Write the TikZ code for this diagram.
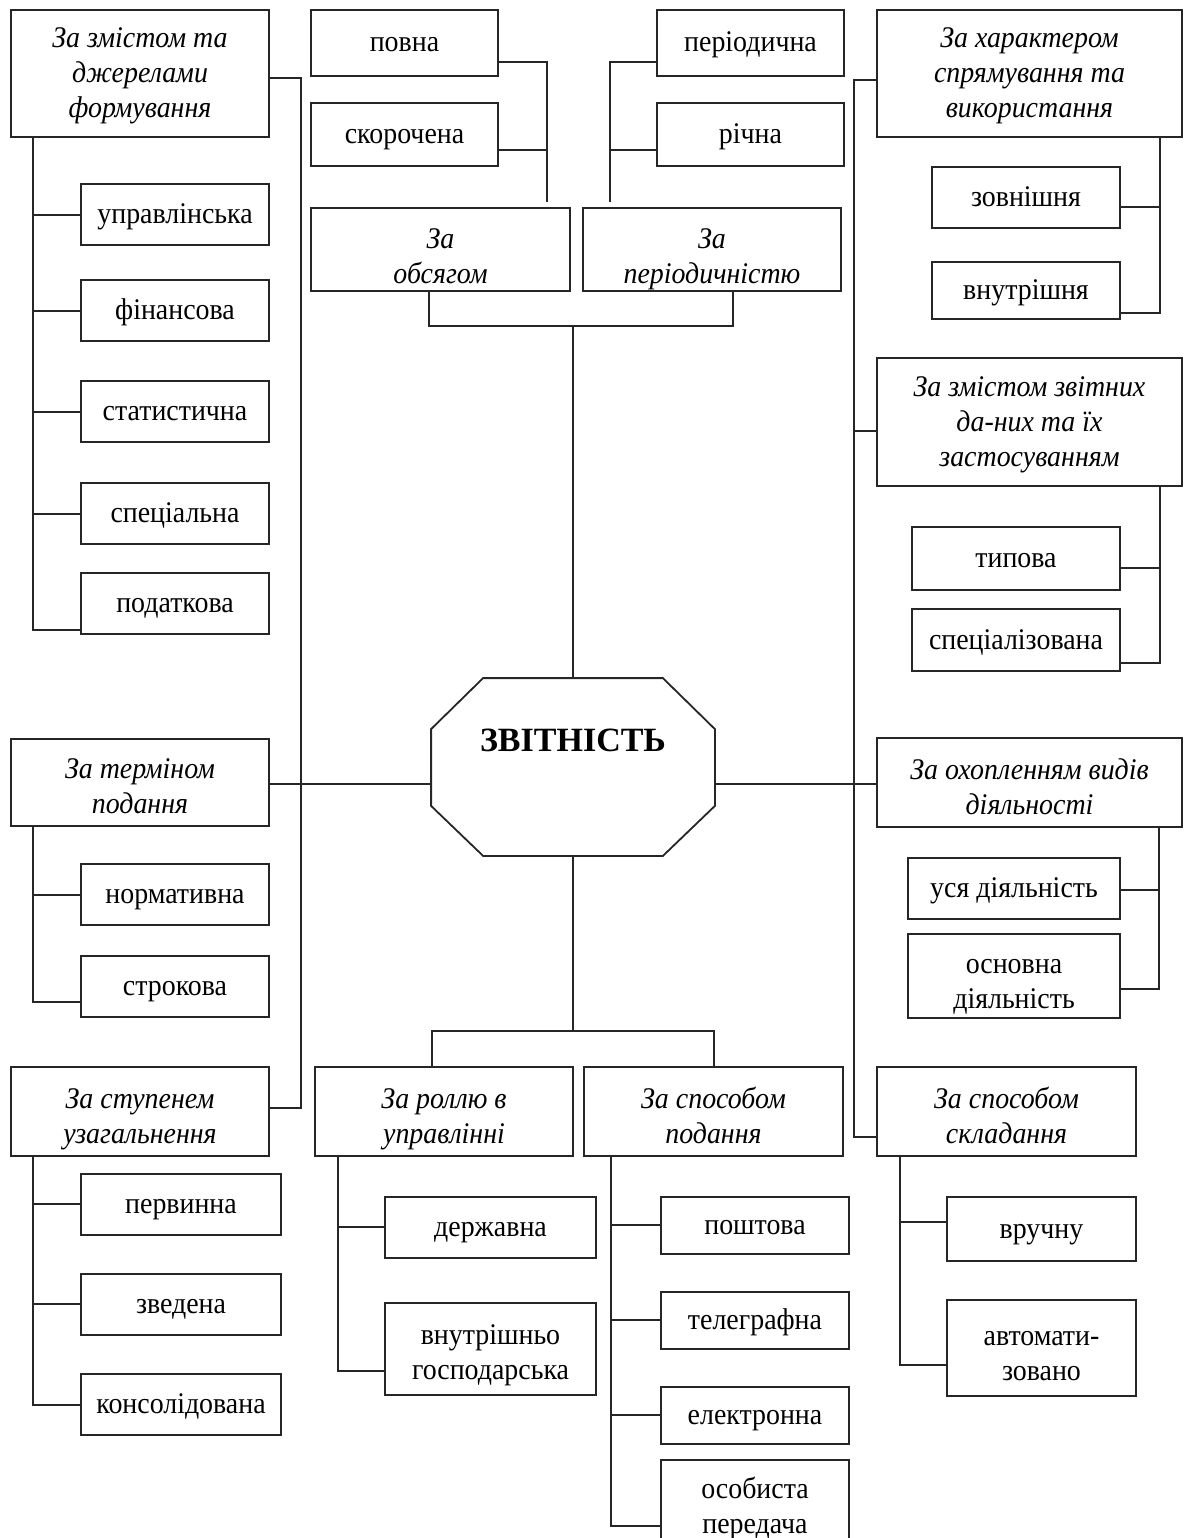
\documentclass[tikz,border=0pt]{standalone}
\usepackage{fontspec}
\setmainfont{Liberation Serif}[FakeStretch=0.93]
\newfontfamily\ttlfont{Liberation Serif}
\usepackage{tikz}
\usetikzlibrary{calc}
\newcommand{\lup}[1][36pt]{\rule{0pt}{#1}}
\newcommand{\ldn}{\rule[-7pt]{0pt}{7pt}}
\tikzset{bx/.style={draw, inner sep=0pt, align=center, font=\fontsize{30}{35}\selectfont}}
\tikzset{lb/.style={bx, text height=18pt, text depth=0pt}}
\tikzset{hd/.style={bx, font=\fontsize{30}{35}\selectfont\itshape}}
\tikzset{sz/.style 2 args={minimum width=#1pt, minimum height=#2pt}}

\begin{document}
\begin{tikzpicture}[x=1pt, y=-1pt, line width=1.8pt, draw=black!85]
\useasboundingbox (0,0) rectangle (1187,1538);
% left column
\node[hd, sz={258}{127}] (zmist) at (140,73.5) {\lup[26pt]За змістом та\\джерелами\\\ldn формування};
\foreach \n/\y/\t in {upr/214.5/управлінська, fin/310.5/фінансова, stat/411.5/статистична, spec/513.5/спеціальна, podat/603.5/податкова}
  \node[lb, sz={188}{61}] (\n) at (175,\y) {\t};
\draw ([xshift=23pt]zmist.south west) |- ([yshift=5pt]podat.south west);
\foreach \n in {upr,fin,stat,spec} \draw ([yshift=-0.5pt]\n.west) -- ++(-47,0);
\node[hd, sz={258}{87}] (term) at (140,782.5) {\lup[33pt]За терміном\\\ldn подання};
\node[lb, sz={188}{61}] (norm) at (175,894.5) {нормативна};
\node[lb, sz={188}{61}] (strok) at (175,986.5) {строкова};
\draw ([xshift=23pt]term.south west) |- ([yshift=16pt]strok.south west);
\draw ([yshift=-0.5pt]norm.west) -- ++(-47,0);
\node[hd, sz={258}{89}] (stup) at (140,1111.5) {\lup За ступенем\\\ldn узагальнення};
\foreach \n/\y/\t in {perv/1204.5/первинна, zved/1304.5/зведена, kons/1404.5/консолідована}
  \node[lb, sz={200}{61}] (\n) at (181,\y) {\t};
\draw ([xshift=23pt]stup.south west) |- ([yshift=-0.5pt]kons.west);
\draw ([yshift=0.5pt]perv.west) -- ++(-47,0) ([yshift=0.5pt]zved.west) -- ++(-47,0);
\draw ([yshift=-4.5pt]zmist.east) -- ++(31,0) |- ([yshift=3.5pt]stup.east);
% top
\node[lb, sz={187}{66}] (povna) at (404.5,43) {повна};
\node[lb, sz={187}{63}] (skor) at (404.5,134.5) {скорочена};
\node[lb, sz={187}{66}] (periodic) at (750.5,43) {періодична};
\node[lb, sz={187}{63}] (richna) at (750.5,134.5) {річна};
\node[hd, sz={259}{83}] (obs) at (440.5,249.5) {\lup[40pt]За\\\ldn обсягом};
\node[hd, sz={258}{83}] (per) at (712,249.5) {\lup[40pt]За\\\ldn періодичністю};
\draw ([yshift=-19pt]povna.east) -| ([shift={(-24pt,5pt)}]obs.north east);
\draw ([yshift=-15.5pt]skor.east) -- ++(48,0);
\draw ([yshift=-19pt]periodic.west) -| ([shift={(28pt,5pt)}]per.north west);
\draw ([yshift=-15.5pt]richna.west) -- ++(-46,0);
\coordinate (hub1) at (573,326);
\draw ([xshift=-11.5pt]obs.south) |- (hub1) -| ([xshift=21pt]per.south);
% centre
\node[sz={282}{176}] (zv) at (573,767) {};
\draw ($(zv.north west)+(52,0)$) -- ($(zv.north east)+(-52,0)$) -- ($(zv.north east)+(0,51)$) -- ($(zv.south east)+(0,-50)$) -- ($(zv.south east)+(-52,0)$) -- ($(zv.south west)+(52,0)$) -- ($(zv.south west)+(0,-50)$) -- ($(zv.north west)+(0,51)$) -- cycle;
\node[font=\fontsize{34}{40}\ttlfont\bfseries] (zvt) at (573,740) {ЗВІТНІСТЬ};
\draw (hub1) -- (zv.north);
\draw ([yshift=-1.5pt]term.east) -- ([yshift=-1.5pt]term.east -| zv.west);
% bottom middle
\node[hd, sz={258}{89}] (rol) at (444,1111.5) {\lup За роллю в\\\ldn управлінні};
\node[lb, sz={211}{61}] (derzh) at (490.5,1227.5) {державна};
\node[bx, sz={211}{92}] (vnutr) at (490.5,1349) {\lup[32pt]внутрішньо\\\ldn господарська};
\draw ([xshift=24pt]rol.south west) |- ([yshift=-22pt]vnutr.west);
\draw ([yshift=0.5pt]derzh.west) -- ++(-46,0);
\node[hd, sz={259}{89}] (spos) at (713.5,1111.5) {\lup За способом\\\ldn подання};
\foreach \n/\y/\t in {posht/1225.5/поштова, teleg/1320.5/телеграфна, elektr/1415.5/електронна}
  \node[lb, sz={188}{57}] (\n) at (755,\y) {\t};
\node[bx, sz={188}{86}] (osob) at (755,1503) {\lup[32pt]особиста\\\ldn передача};
\draw ([xshift=28pt]spos.south west) |- ([yshift=-23pt]osob.west);
\foreach \n in {posht,teleg,elektr} \draw ([yshift=0.5pt]\n.west) -- ++(-49,0);
\coordinate (hub2) at (573,1031);
\draw (zv.south) -- (hub2);
\draw ([xshift=-12pt]rol.north) |- (hub2) -| ([xshift=0.5pt]spos.north);
% right column
\node[hd, sz={305}{127}] (khar) at (1029.5,73.5) {\lup[26pt]За характером\\спрямування та\\\ldn використання};
\node[lb, sz={188}{61}] (zovn) at (1026,197.5) {зовнішня};
\node[lb, sz={188}{57}] (vnsh) at (1026,290.5) {внутрішня};
\draw ([xshift=-23pt]khar.south east) |- ([yshift=7pt]vnsh.south east);
\draw ([yshift=-9.5pt]zovn.east) -- ++(39,0);
\node[hd, sz={305}{128}] (zmdan) at (1029.5,422) {\lup[26pt]За змістом звітних\\да-них та їх\\\ldn застосуванням};
\node[lb, sz={208}{63}] (typ) at (1016,558.5) {типова};
\node[lb, sz={208}{62}] (spcz) at (1016,640) {спеціалізована};
\draw ([xshift=-23pt]zmdan.south east) |- ([yshift=9pt]spcz.south east);
\draw ([yshift=-9.5pt]typ.east) -- ++(39,0);
\node[hd, sz={305}{89}] (okhop) at (1029.5,782.5) {\lup За охопленням видів\\\ldn діяльності};
\node[lb, sz={212}{61}] (usya) at (1014,888.5) {уся діяльність};
\node[bx, sz={212}{84}] (osnov) at (1014,976) {\lup основна\\\ldn діяльність};
\draw ([xshift=-24pt]okhop.south east) |- ([yshift=-13pt]osnov.east);
\draw ([yshift=-1.5pt]usya.east) -- ++(38,0);
\draw ([yshift=-1.5pt]okhop.west -| zv.east) -- ([yshift=-1.5pt]okhop.west);
\node[hd, sz={259}{89}] (sklad) at (1006.5,1111.5) {\lup За способом\\\ldn складання};
\node[lb, sz={189}{64}] (vruch) at (1041.5,1229) {вручну};
\node[bx, sz={189}{96}] (avto) at (1041.5,1348) {\lup автомати-\\\ldn зовано};
\draw ([xshift=24pt]sklad.south west) |- ([yshift=-17pt]avto.west);
\draw ([yshift=7pt]vruch.west) -- ++(-46,0);
\draw ([yshift=-6.5pt]khar.west) -- ++(-22,0) |- ([yshift=-25.5pt]sklad.west);
\draw ([yshift=-9pt]zmdan.west) -- ++(-22,0);
\end{tikzpicture}
\end{document}
